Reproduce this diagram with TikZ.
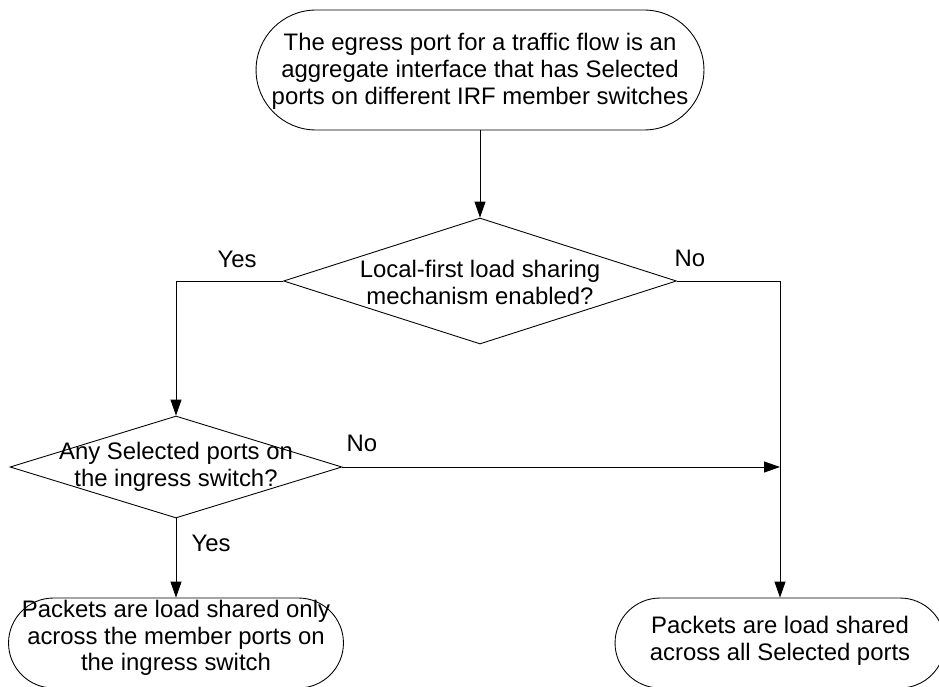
\documentclass[tikz,border=0pt]{standalone}
\usepackage{fontspec}
\setmainfont{Liberation Sans}
\usetikzlibrary{shapes.geometric,shapes.misc,arrows.meta,positioning}
\tikzset{terminal/.style={rounded rectangle,draw,inner sep=0pt,minimum height=1.8cm},
         decision/.style={diamond,draw,inner sep=0pt},
         txt/.style={align=center,inner sep=0pt,font=\fontsize{13.6}{15.2}\selectfont},
         flow/.style={-{Triangle[length=0.32cm,width=0.22cm]}}}

\begin{document}
\begin{tikzpicture}[x=0.02cm,y=-0.02cm,line width=0.5pt]
                \useasboundingbox (0,0) rectangle (939,686);
                \clip (0,0) rectangle (939,686);
                % shapes
                \node[terminal,minimum width=8.96cm,minimum height=2.4cm] (egress) at (480,70) {};
                \node[decision,minimum width=7.86cm,minimum height=2.52cm] (localfirst) at (480,281) {};
                \node[decision,minimum width=6.64cm,minimum height=2.04cm] (anysel) at (176,467) {};
                \node[terminal,minimum width=6.7cm] (onlylocal) at (176,643) {};
                \node[terminal,minimum width=6.6cm] (allports) at (780,643) {};
                % texts
                \node[txt] (egresstxt) at ([yshift=-0.03cm]egress) {The egress port for a traffic flow is an\\aggregate interface that has Selected\\ports on different IRF member switches};
                \node[txt] (localfirsttxt) at ([yshift=-0.03cm]localfirst) {Local-first load sharing\\mechanism enabled?};
                \node[txt] (anyseltxt) at (anysel) {Any Selected ports on\\the ingress switch?};
                \node[txt] (onlylocaltxt) at ([yshift=0.1cm]onlylocal) {Packets are load shared only\\across the member ports on\\the ingress switch};
                \node[txt] (allportstxt) at ([yshift=0.04cm]allports) {Packets are load shared\\across all Selected ports};
                % connectors
                \coordinate (join) at (anysel.east -| allports.north);
                \draw[flow] (egress) -- (localfirst);
                \draw[flow] (localfirst.west) -| (anysel.north);
                \draw[flow] (localfirst.east) -| (allports.north);
                \draw[flow] (anysel.east) -- (join);
                \draw[flow] (anysel.south) -- (onlylocal.north);
                % branch labels
                \node[txt] (yes1) at (237,259) {Yes};
                \node[txt] (no1) at (690,258) {No};
                \node[txt] (no2) at (362,443) {No};
                \node[txt] (yes2) at (211,543) {Yes};
            \end{tikzpicture}
\end{document}
